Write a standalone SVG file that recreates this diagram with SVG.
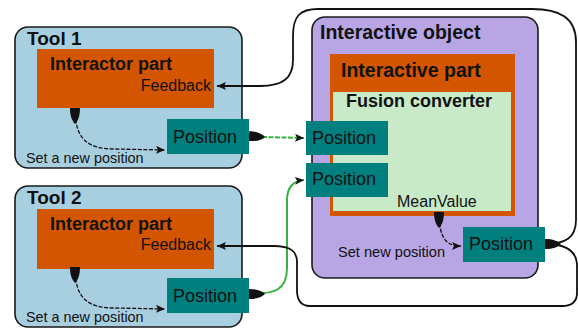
<svg xmlns="http://www.w3.org/2000/svg" width="578" height="328" viewBox="0 0 578 328">
<defs>
<style>
text{font-family:"Liberation Sans",Arial,sans-serif;fill:#111}
.b{font-weight:bold}
.tool{fill:#a8cfe0;stroke:#1a1a1a;stroke-width:1.6}
.orange{fill:#d35500}
.teal{fill:#007f7f}
.purple{fill:#b8a6e4;stroke:#1a1a1a;stroke-width:1.6}
.fusion{fill:#c8eac8}
.solid{fill:none;stroke:#111;stroke-width:1.8}
.dash{fill:none;stroke:#111;stroke-width:1.3;stroke-dasharray:4 1.6}
.green{fill:none;stroke:#33b440;stroke-width:2}
.gdash{fill:none;stroke:#33b440;stroke-width:2;stroke-dasharray:5 1.5}
</style>
<marker id="arrow" markerUnits="userSpaceOnUse" markerWidth="12" markerHeight="10" refX="9" refY="4" orient="auto">
<path d="M0,0 L9,4 L0,8 L2,4 Z" fill="#111"/>
</marker>
<marker id="plug" markerUnits="userSpaceOnUse" markerWidth="18" markerHeight="12" refX="0" refY="6" orient="auto">
<path d="M0,1 C8,1 13,3 16,6 C13,9 8,11 0,11 Z" fill="#111"/>
</marker>
</defs>

<g id="tool1">
<rect class="tool" x="15" y="27" width="227" height="141" rx="13"/>
<text class="b" x="27" y="45" font-size="19">Tool 1</text>
<rect class="orange" x="37" y="49" width="177" height="59"/>
<text class="b" x="50" y="70" font-size="18">Interactor part</text>
<text x="211" y="91" font-size="16" text-anchor="end">Feedback</text>
<text x="26" y="163" font-size="14.4">Set a new position</text>
</g>
<g id="tool1-position">
<rect class="teal" x="167" y="119" width="82" height="35"/>
<text x="173" y="143" font-size="18">Position</text>
</g>

<g id="tool2">
<rect class="tool" x="15" y="186" width="227" height="141" rx="13"/>
<text class="b" x="27" y="204" font-size="19">Tool 2</text>
<rect class="orange" x="37" y="209" width="177" height="60"/>
<text class="b" x="50" y="230" font-size="18">Interactor part</text>
<text x="211" y="250" font-size="16" text-anchor="end">Feedback</text>
<text x="26" y="322" font-size="14.4">Set a new position</text>
</g>
<g id="tool2-position">
<rect class="teal" x="167" y="278" width="82" height="35"/>
<text x="173" y="302" font-size="18">Position</text>
</g>

<g id="interactive-object">
<rect class="purple" x="312" y="17" width="226" height="261" rx="13"/>
<text class="b" x="320" y="39" font-size="19.5">Interactive object</text>
<text x="338" y="257" font-size="14.6">Set new position</text>
</g>
<g id="interactive-part">
<rect class="orange" x="330" y="54" width="185" height="162"/>
<text class="b" x="341" y="77" font-size="19.5">Interactive part</text>
</g>
<g id="fusion-converter">
<rect class="fusion" x="333" y="92" width="178" height="119"/>
<text class="b" x="346" y="107" font-size="18">Fusion converter</text>
<text x="397" y="207" font-size="16">MeanValue</text>
</g>
<g id="fusion-position-1">
<rect class="teal" x="306" y="121" width="82" height="34"/>
<text x="312" y="144" font-size="18">Position</text>
</g>
<g id="fusion-position-2">
<rect class="teal" x="306" y="163" width="82" height="34"/>
<text x="312" y="185" font-size="18">Position</text>
</g>
<g id="object-position">
<rect class="teal" x="463" y="227" width="82" height="35"/>
<text x="469" y="250" font-size="18">Position</text>
</g>

<g id="connectors">
<path class="dash" d="M75,108 C75,138 86,149 115,149 L165,150" marker-start="url(#plug)" marker-end="url(#arrow)"/>
<path class="dash" d="M75,267 C75,297 86,308 115,308 L165,309" marker-start="url(#plug)" marker-end="url(#arrow)"/>
<path class="dash" d="M439,212 C439,238 446,246 461,246" marker-start="url(#plug)" marker-end="url(#arrow)"/>
<path class="gdash" d="M249,136 L263,137 L304,138" marker-start="url(#plug)" marker-end="url(#arrow)"/>
<path class="green" d="M249,294 C275,294 287,290 287,268 L287,200 C287,187 293,181 304,180" marker-start="url(#plug)" marker-end="url(#arrow)"/>
<path class="solid" d="M545,244 C565,244 576,238 576,220 L576,42 C576,18 560,9 532,9 L318,9 C300,9 293,16 293,36 L293,60 C293,78 283,86 260,86 L217,86" marker-start="url(#plug)" marker-end="url(#arrow)"/>
<path class="solid" d="M545,244 C565,244 577,250 577,266 L577,293 C577,302 572,306 562,306 L310,306 C301,306 297,300 297,290 L297,262 C297,251 290,246 274,246 L217,246" marker-end="url(#arrow)"/>
</g>
</svg>
